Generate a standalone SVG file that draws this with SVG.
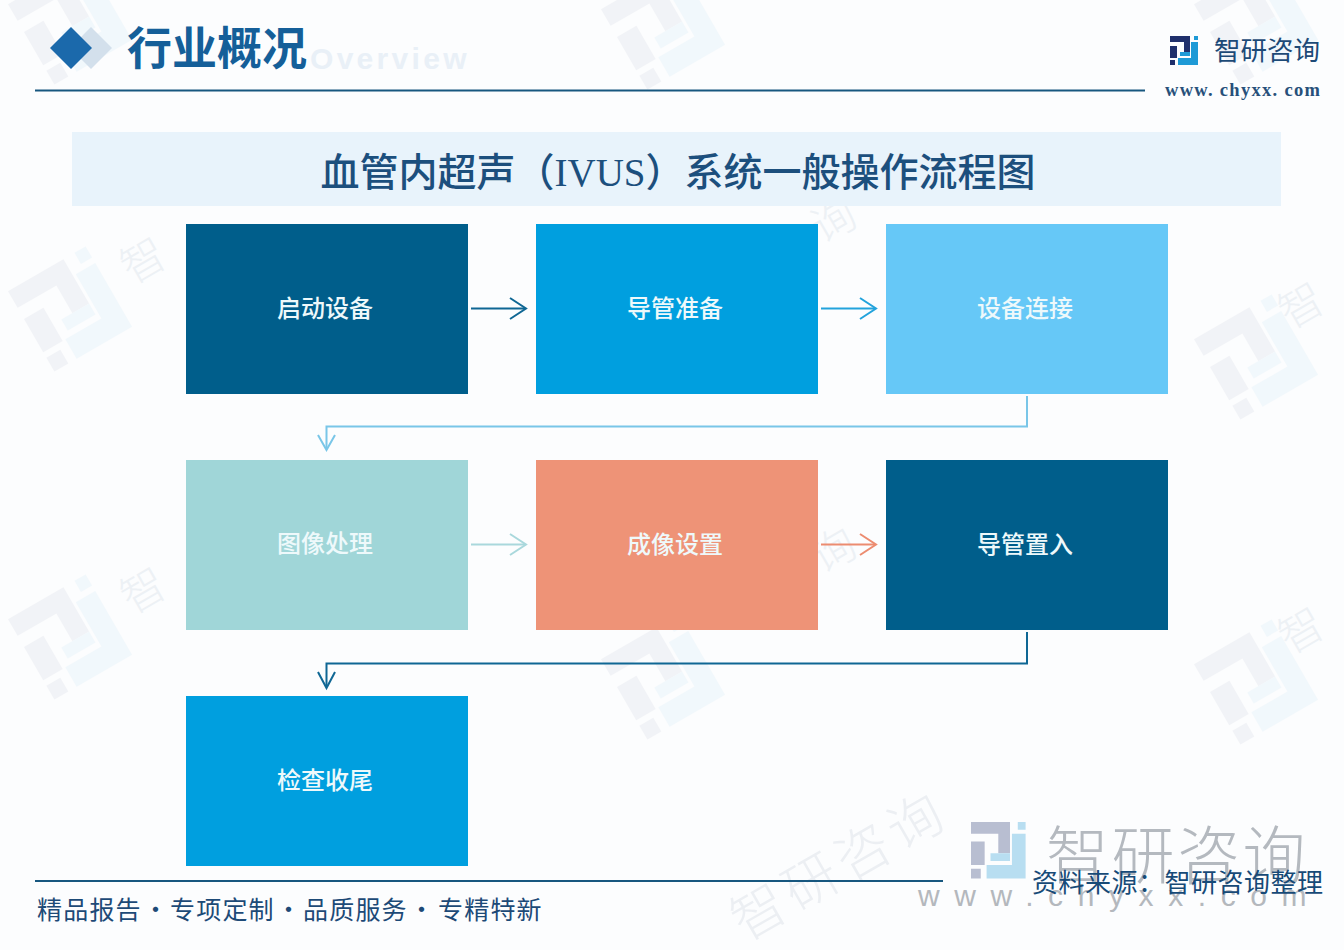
<svg xmlns="http://www.w3.org/2000/svg" xmlns:xlink="http://www.w3.org/1999/xlink" width="1344" height="950" viewBox="0 0 1344 950">
<style>
.cjk{font-family:"Noto Sans CJK SC","Noto Sans",sans-serif}
.node-label{font-family:"Noto Sans CJK SC","Noto Sans",sans-serif;font-size:24px;font-weight:500;fill:#eef9fb;text-anchor:middle}
.wm{font-family:"Noto Sans CJK SC",sans-serif;font-size:44px;font-weight:300;fill:#edf1f5}
.conn{fill:none;stroke-width:2}
.dark{fill:#1f2f6b}
.blue{fill:#1e9ad6}
</style>
<defs>
<g id="logo">
<path class="dark" d="M0 0H20V16H14V6H0ZM0 10H7V22H0ZM0 24H5V29H0Z"/>
<path class="blue" d="M24 0H28V4H24ZM21 6H28V29H8V22H21ZM10 16H20V20H10Z"/>
</g>
<g id="wmark" opacity="0.045">
<use xlink:href="#logo" transform="translate(-45 -50) scale(3.2)"/>
</g>
</defs>
<rect id="background" width="1344" height="950" fill="#fcfdfe"/>
<g id="watermarks">
<use xlink:href="#wmark" transform="translate(72 312) rotate(-30)"/>
<use xlink:href="#wmark" transform="translate(72 640) rotate(-30)"/>
<use xlink:href="#wmark" transform="translate(665 680) rotate(-30)"/>
<use xlink:href="#wmark" transform="translate(665 30) rotate(-30)"/>
<use xlink:href="#wmark" transform="translate(1258 360) rotate(-30)"/>
<use xlink:href="#wmark" transform="translate(1258 685) rotate(-30)"/>
<use xlink:href="#wmark" transform="translate(1258 25) rotate(-30)"/>
<use xlink:href="#wmark" transform="translate(72 25) rotate(-30)"/>
<text class="wm" transform="translate(132 285) rotate(-30)">智</text>
<text class="wm" transform="translate(132 615) rotate(-30)">智</text>
<text class="wm" transform="translate(822 245) rotate(-30)">询</text>
<text class="wm" transform="translate(822 575) rotate(-30)">询</text>
<text class="wm" transform="translate(1290 330) rotate(-30)">智</text>
<text class="wm" transform="translate(1290 655) rotate(-30)">智</text>
<text class="cjk" font-size="54" font-weight="300" letter-spacing="6" fill="#eceff3" transform="translate(745 942) rotate(-30)">智研咨询</text>
<g opacity="0.3">
<use xlink:href="#logo" transform="translate(971 822) scale(1.95)"/>
</g>
<text class="cjk" x="1046" y="878" font-size="63" font-weight="300" letter-spacing="2.500" fill="#b4b9bf">智研咨询</text>
<text x="918" y="906" font-family="Liberation Sans, sans-serif" font-size="30" letter-spacing="14.600" fill="#b4b8bd">www.chyxx.com</text>
</g>
<g id="header">
<path d="M91 27 L112 48 L91 69 L70 48Z" fill="#d3e0ec"/>
<path d="M71 27 L92 48 L71 69 L50 48Z" fill="#1b69ab"/>
<text x="310" y="69" font-family="Liberation Sans, sans-serif" font-size="30" font-weight="700" letter-spacing="3.300" fill="#e9f0f7">Overview</text>
<text x="127" y="65" font-family="Noto Sans CJK SC,sans-serif" font-weight="700" font-size="45" fill="#155f99">行业概况</text>
<line x1="35" y1="90.500" x2="1145" y2="90.500" stroke="#17577f" stroke-width="2"/>
<use xlink:href="#logo" transform="translate(1170 36)"/>
<text class="cjk" x="1214" y="60" font-size="26.500" fill="#1d4a77">智研咨询</text>
<text x="1165" y="96" font-family="Liberation Serif, serif" font-size="18.500" font-weight="700" letter-spacing="1.300" fill="#27507a">www. chyxx. com</text>
</g>
<g id="title">
<rect x="72" y="132" width="1209" height="74" fill="#e8f3fb"/>
<text x="678" y="186" text-anchor="middle" font-family="Liberation Serif,Noto Sans CJK SC,serif" font-weight="500" font-size="39" fill="#1c4f7d">血管内超声（IVUS）系统一般操作流程图</text>
</g>
<g id="connectors">
<g class="conn" stroke="#0f6794"><path d="M471 308.500H525"/><path d="M510 298L526 308.500L510 319"/></g>
<g class="conn" stroke="#22a3dc"><path d="M821 308.500H875"/><path d="M860 298L876 308.500L860 319"/></g>
<g class="conn" stroke="#79c6e8"><path d="M1027 396V426.500H326.500V449"/><path d="M318 435L326.500 450L335 435"/></g>
<g class="conn" stroke="#a9d8dc"><path d="M471 544.500H525"/><path d="M510 534L526 544.500L510 555"/></g>
<g class="conn" stroke="#ec8c70"><path d="M821 544.500H875"/><path d="M860 534L876 544.500L860 555"/></g>
<g class="conn" stroke="#0f6794"><path d="M1027 632V663.500H326.500V687"/><path d="M318 672L326.500 688L335 672"/></g>
</g>
<g id="node-start"><rect x="186" y="224" width="282" height="170" fill="#005e8b"/><text class="node-label" x="325" y="317">启动设备</text></g>
<g id="node-catheter-prep"><rect x="536" y="224" width="282" height="170" fill="#009fdf"/><text class="node-label" x="675" y="317">导管准备</text></g>
<g id="node-connect"><rect x="886" y="224" width="282" height="170" fill="#66c8f7"/><text class="node-label" x="1025" y="317">设备连接</text></g>
<g id="node-image"><rect x="186" y="460" width="282" height="170" fill="#a0d6d8"/><text class="node-label" x="325" y="552">图像处理</text></g>
<g id="node-settings"><rect x="536" y="460" width="282" height="170" fill="#ee9377"/><text class="node-label" x="675" y="553">成像设置</text></g>
<g id="node-insert"><rect x="886" y="460" width="282" height="170" fill="#005e8b"/><text class="node-label" x="1025" y="553">导管置入</text></g>
<g id="node-finish"><rect x="186" y="696" width="282" height="170" fill="#009fdf"/><text class="node-label" x="325" y="789">检查收尾</text></g>
<g id="footer">
<line x1="35" y1="881" x2="943" y2="881" stroke="#17577f" stroke-width="2"/>
<text class="cjk" y="919" font-size="25" fill="#1d4a77" letter-spacing="1.200"><tspan x="37">精品报告</tspan><tspan x="143">·</tspan><tspan x="170">专项定制</tspan><tspan x="276">·</tspan><tspan x="303">品质服务</tspan><tspan x="409">·</tspan><tspan x="438">专精特新</tspan></text>
<text class="cjk" x="1032" y="892" font-size="26" fill="#174a77" letter-spacing="0.500">资料来源：智研咨询整理</text>
</g>
</svg>
